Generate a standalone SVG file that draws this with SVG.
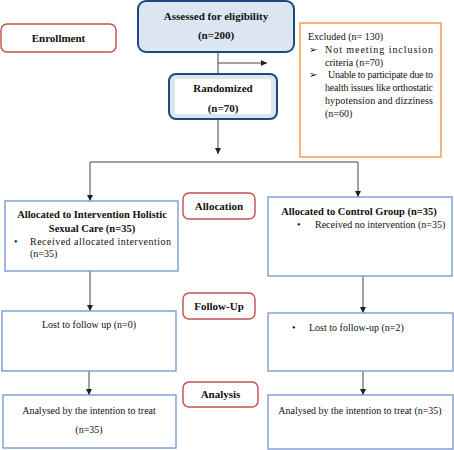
<svg xmlns="http://www.w3.org/2000/svg" width="454" height="450" viewBox="0 0 454 450">
<defs>
<style>
.t{font-family:"Liberation Serif","Times New Roman","DejaVu Serif",serif;font-size:10px;fill:#111}
.b{font-weight:bold}
.c{text-anchor:middle}
.lbl{fill:#fff;stroke:#c0504d;stroke-width:1.4}
.box{fill:#fff;stroke:#7b9bd1;stroke-width:1.4}
.con{stroke:#444;stroke-width:1;fill:none}
.arr{font-family:"DejaVu Sans",sans-serif;font-size:10px;fill:#111}
</style>
<marker id="ah" viewBox="0 0 8 8" refX="8" refY="4" markerWidth="6" markerHeight="6" orient="auto" markerUnits="userSpaceOnUse">
<path d="M0,0 L8,4 L0,8 z" fill="#222"/>
</marker>
</defs>
<rect width="454" height="450" fill="#fff"/>

<g id="connectors">
<line class="con" x1="218" y1="52" x2="218" y2="74"/>
<line class="con" x1="218" y1="63" x2="267" y2="63" marker-end="url(#ah)"/>
<line class="con" x1="218" y1="119" x2="218" y2="154" marker-end="url(#ah)"/>
<line class="con" x1="90" y1="162" x2="358" y2="162"/>
<line class="con" x1="90" y1="162" x2="90" y2="201" marker-end="url(#ah)"/>
<line class="con" x1="358" y1="162" x2="358" y2="197" marker-end="url(#ah)"/>
<line class="con" x1="90" y1="271" x2="90" y2="311" marker-end="url(#ah)"/>
<line class="con" x1="363" y1="276" x2="363" y2="313" marker-end="url(#ah)"/>
<line class="con" x1="89" y1="371" x2="89" y2="395" marker-end="url(#ah)"/>
<line class="con" x1="363" y1="371" x2="363" y2="395" marker-end="url(#ah)"/>
</g>

<g id="enrollment">
<rect class="lbl" x="1" y="24" width="115" height="28" rx="6"/>
<text class="t b c" x="58.5" y="42" style="font-size:11px">Enrollment</text>
</g>

<g id="assessed">
<rect x="138" y="1" width="156" height="51" rx="8" fill="#dce6f2" stroke="#1f497d" stroke-width="2"/>
<text class="t b c" x="216" y="20" style="font-size:11px">Assessed for eligibility</text>
<text class="t b c" x="216" y="39" style="font-size:11px">(n=200)</text>
</g>

<g id="randomized">
<rect x="169" y="74" width="108" height="45" rx="7" fill="#dce6f2" stroke="#1f497d" stroke-width="2"/>
<rect x="175" y="79" width="96" height="35" fill="#fff"/>
<text class="t b c" x="223" y="92" style="font-size:11px">Randomized</text>
<text class="t b c" x="223" y="112" style="font-size:11px">(n=70)</text>
</g>

<g id="excluded">
<rect x="300" y="23" width="141" height="134" fill="#fff" stroke="#f79646" stroke-width="1.4"/>
<text class="t" x="308" y="40">Excluded (n= 130)</text>
<text class="arr" x="309" y="53">➢</text>
<text class="t" x="325" y="53" textLength="108" lengthAdjust="spacing">Not meeting inclusion</text>
<text class="t" x="325" y="66">criteria (n=70)</text>
<text class="arr" x="309" y="78">➢</text>
<text class="t" x="328" y="78" textLength="105" lengthAdjust="spacing">Unable to participate due to</text>
<text class="t" x="325" y="91" textLength="108" lengthAdjust="spacing">health issues like orthostatic</text>
<text class="t" x="325" y="104" textLength="108" lengthAdjust="spacing">hypotension and dizziness</text>
<text class="t" x="325" y="117">(n=60)</text>
</g>

<g id="allocation-label">
<rect class="lbl" x="183" y="193" width="72" height="26" rx="6"/>
<text class="t b c" x="219" y="210" style="font-size:11px">Allocation</text>
</g>

<g id="alloc-intervention">
<rect class="box" x="5" y="201" width="173" height="70"/>
<text class="t b c" x="92" y="218" style="font-size:10.5px">Allocated to Intervention Holistic</text>
<text class="t b c" x="92" y="232" style="font-size:10.5px">Sexual Care (n=35)</text>
<text class="t" x="14" y="245">•</text>
<text class="t" x="30" y="245" textLength="141" lengthAdjust="spacing">Received allocated intervention</text>
<text class="t" x="30" y="257">(n=35)</text>
</g>

<g id="alloc-control">
<rect class="box" x="268" y="197" width="184" height="79"/>
<text class="t b c" x="359" y="215" style="font-size:10.5px">Allocated to Control Group (n=35)</text>
<text class="t" x="297" y="228">•</text>
<text class="t" x="315" y="228">Received no intervention (n=35)</text>
</g>

<g id="followup-label">
<rect class="lbl" x="183" y="293" width="72" height="26" rx="6"/>
<text class="t b c" x="219" y="310" style="font-size:11px">Follow-Up</text>
</g>

<g id="followup-intervention">
<rect class="box" x="2" y="311" width="174" height="60"/>
<text class="t c" x="89" y="328">Lost to follow up (n=0)</text>
</g>

<g id="followup-control">
<rect class="box" x="268" y="313" width="185" height="58"/>
<text class="t" x="292" y="331">•</text>
<text class="t" x="309" y="331">Lost to follow-up (n=2)</text>
</g>

<g id="analysis-label">
<rect class="lbl" x="183" y="382" width="75" height="25" rx="6"/>
<text class="t b c" x="220.5" y="398" style="font-size:11px">Analysis</text>
</g>

<g id="analysis-intervention">
<rect class="box" x="3" y="395" width="173" height="53"/>
<text class="t c" x="89" y="414">Analysed by the intention to treat</text>
<text class="t c" x="89" y="433">(n=35)</text>
</g>

<g id="analysis-control">
<rect class="box" x="268" y="395" width="185" height="54"/>
<text class="t c" x="360" y="414">Analysed by the intention to treat (n=35)</text>
</g>
</svg>
